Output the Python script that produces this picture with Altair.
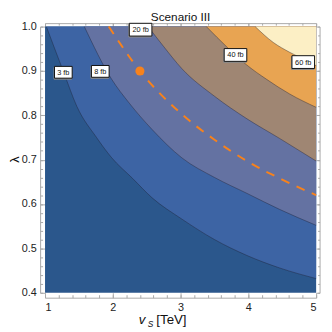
import altair as alt
import pandas as pd

# ---- contour boundaries (vS [TeV], lambda) ----
b3_vs = [1.02, 1.28, 1.47, 1.76, 1.98, 2.29, 2.58, 3.02, 3.50, 3.98, 4.46, 5.0]
b3_lam = [1.0, 0.895, 0.82, 0.75, 0.705, 0.658, 0.614, 0.566, 0.52, 0.484, 0.456, 0.432]
b8_vs = [1.58, 1.98, 2.24, 2.58, 3.02, 3.50, 3.98, 4.46, 5.0]
b8_lam = [1.0, 0.882, 0.828, 0.768, 0.704, 0.66, 0.624, 0.588, 0.552]
b20_vs = [2.52, 2.75, 3.02, 3.50, 3.98, 4.46, 5.0]
b20_lam = [1.0, 0.955, 0.905, 0.843, 0.792, 0.748, 0.697]
b40_vs = [3.38, 3.69, 3.98, 4.27, 4.61, 5.0]
b40_lam = [1.0, 0.953, 0.913, 0.881, 0.848, 0.818]
b60_vs = [4.10, 4.37, 4.61, 4.94, 5.0]
b60_lam = [1.0, 0.964, 0.942, 0.917, 0.912]

# dashed benchmark curve and point
dash_vs = [1.94, 2.4, 3.0, 3.5, 4.0, 4.5, 5.0]
dash_lam = [1.0, 0.9, 0.805, 0.745, 0.695, 0.655, 0.62]
pt_vs = [2.4]
pt_lam = [0.9]

# contour labels
labels = ["3 fb", "8 fb", "20 fb", "40 fb", "60 fb"]
label_vs = [1.27, 1.815, 2.41, 3.81, 4.81]
label_lam = [0.897, 0.899, 0.993, 0.936, 0.92]

# ticks
x_major = [1, 2, 3, 4, 5]
y_major = [0.4, 0.5, 0.6, 0.7, 0.8, 0.9, 1.0]
x_minor = [round(1 + 0.2 * i, 2) for i in range(21)]
y_minor = [round(0.4 + 0.02 * i, 2) for i in range(31)]

FONT = "Liberation Sans"
W, H = 276, 271
colors = ["#2b578c", "#3d64a4", "#6472a2", "#9f8673", "#e8a452", "#fcefc5"]
orange = "#f7821c"

xs = alt.Scale(domain=[1, 5], nice=False, zero=False)
ys = alt.Scale(domain=[0.4, 1.0], nice=False, zero=False)

def X(f):
    return alt.X(f, type="quantitative", scale=xs, axis=None)

def Y(f):
    return alt.Y(f, type="quantitative", scale=ys, axis=None)

bounds = [(b3_vs, b3_lam), (b8_vs, b8_lam), (b20_vs, b20_lam),
          (b40_vs, b40_lam), (b60_vs, b60_lam)]

base = alt.Chart(pd.DataFrame({"a": [0]})).mark_rect(color=colors[0]).encode(
    x=alt.XDatum(1.0, type="quantitative", scale=xs, axis=None),
    x2=alt.X2Datum(5.0),
    y=alt.YDatum(0.4, type="quantitative", scale=ys, axis=None),
    y2=alt.Y2Datum(1.0),
)

layers = [base]
for i, (bv, bl) in enumerate(bounds):
    df = pd.DataFrame({"vs": bv, "lam": bl})
    layers.append(
        alt.Chart(df).mark_area(color=colors[i + 1], interpolate="monotone").encode(
            x=X("vs"), y=Y("lam"), y2=alt.Y2Datum(1.0)
        )
    )
for bv, bl in bounds:
    df = pd.DataFrame({"vs": bv, "lam": bl})
    layers.append(
        alt.Chart(df).mark_line(color="#1a1a2a", strokeWidth=0.7, opacity=0.55,
                                interpolate="monotone").encode(x=X("vs"), y=Y("lam"))
    )

ddf = pd.DataFrame({"vs": dash_vs, "lam": dash_lam})
layers.append(
    alt.Chart(ddf).mark_line(color=orange, strokeWidth=2, strokeDash=[9, 8],
                             interpolate="monotone").encode(x=X("vs"), y=Y("lam"))
)
pdf = pd.DataFrame({"vs": pt_vs, "lam": pt_lam})
layers.append(
    alt.Chart(pdf).mark_circle(color=orange, size=85, opacity=1).encode(x=X("vs"), y=Y("lam"))
)

ldf = pd.DataFrame({"label": labels, "vs": label_vs, "lam": label_lam})
short_shape = "M-1,-0.667L1,-0.667L1,0.667L-1,0.667Z"
long_shape = "M-1,-0.565L1,-0.565L1,0.565L-1,0.565Z"
ldf_s = ldf[ldf["label"].str.len() <= 4]
ldf_l = ldf[ldf["label"].str.len() > 4]
for sub, shp, sz in [(ldf_s, short_shape, 324), (ldf_l, long_shape, 529)]:
    layers.append(
        alt.Chart(sub).mark_point(shape=shp, size=sz, filled=True, fill="#8a8a8a",
                                  stroke="#8a8a8a", strokeWidth=1, opacity=1,
                                  xOffset=-0.5, yOffset=1).encode(x=X("vs"), y=Y("lam"))
    )
    layers.append(
        alt.Chart(sub).mark_point(shape=shp, size=sz, filled=True, fill="white",
                                  stroke="#111111", strokeWidth=1, opacity=1).encode(
            x=X("vs"), y=Y("lam"))
    )
layers.append(
    alt.Chart(ldf).mark_text(font=FONT, fontSize=7.5, color="#111111",
                             align="center", baseline="middle", dy=0.5).encode(
        x=X("vs"), y=Y("lam"), text="label:N")
)

# title and axis titles as text
tdf = pd.DataFrame({"a": [0]})
layers.append(alt.Chart(tdf).mark_text(text="Scenario III", font=FONT, fontSize=12,
                                       align="center", baseline="alphabetic", color="#111").encode(
    x=alt.value(138), y=alt.value(-6)))
layers.append(alt.Chart(tdf).mark_text(text="v", font=FONT, fontStyle="italic", fontSize=13.5,
                                       align="center", baseline="alphabetic", color="#111").encode(
    x=alt.value(98.8), y=alt.value(303)))
layers.append(alt.Chart(tdf).mark_text(text="S", font=FONT, fontStyle="italic", fontSize=8.5,
                                       align="center", baseline="alphabetic", color="#111").encode(
    x=alt.value(107.3), y=alt.value(305.5)))
layers.append(alt.Chart(tdf).mark_text(text="[TeV]", font=FONT, fontSize=13.5,
                                       align="left", baseline="alphabetic", color="#111").encode(
    x=alt.value(113.3), y=alt.value(303)))
layers.append(alt.Chart(tdf).mark_text(text="λ", font=FONT, fontSize=13, angle=270,
                                       align="center", baseline="middle", color="#111").encode(
    x=alt.value(-30.5), y=alt.value(135.5)))

data_layer = alt.layer(*layers)

dummy = pd.DataFrame({"vs": [1.0], "lam": [0.4]})

def axis_layer(xaxis, yaxis):
    return alt.Chart(dummy).mark_point(opacity=0).encode(
        x=alt.X("vs:Q", scale=xs, axis=xaxis),
        y=alt.Y("lam:Q", scale=ys, axis=yaxis),
    )

common = dict(grid=False, title=None)
lab_x = alt.Axis(orient="bottom", offset=5, values=x_major, domain=True, domainColor="#a8a8a8",
                 domainWidth=1, ticks=False, tickSize=0, labels=True, labelPadding=4,
                 labelFont=FONT, labelFontSize=11, labelColor="#222", format="d", **common)
lab_y = alt.Axis(orient="left", offset=5, values=y_major, domain=True, domainColor="#a8a8a8",
                 domainWidth=1, ticks=False, tickSize=0, labels=True, labelPadding=4,
                 labelFont=FONT, labelFontSize=11, labelColor="#222", format=".1f", **common)

def tick_axis(orient, vals, off, size):
    return alt.Axis(orient=orient, offset=off, values=vals, domain=False, ticks=True,
                    tickSize=size, tickColor="#a8a8a8", tickWidth=1, labels=False, **common)

def frame_axis(orient, off):
    return alt.Axis(orient=orient, offset=off, domain=True, domainColor="#a8a8a8", domainWidth=1,
                    ticks=False, labels=False, **common)

ax_layers = [
    axis_layer(lab_x, lab_y),
    axis_layer(tick_axis("bottom", x_major, 0, 5), tick_axis("left", y_major, 0, 5)),
    axis_layer(tick_axis("bottom", x_minor, 2, 3), tick_axis("left", y_minor, 2.5, 2.5)),
    axis_layer(frame_axis("top", 3.5), frame_axis("right", 3.5)),
    axis_layer(tick_axis("top", x_major, 0, 3.5), tick_axis("right", y_major, 0, 3.5)),
    axis_layer(tick_axis("top", x_minor, 1.5, 2), tick_axis("right", y_minor, 1.5, 2)),
]

chart = alt.layer(data_layer, *ax_layers).resolve_scale(
    x="independent", y="independent"
).properties(
    width=W, height=H,
    autosize=alt.AutoSizeParams(type="none"),
    padding={"left": 37.7, "top": 16, "right": 8, "bottom": 36},
).configure_view(stroke=None)

chart.save("out.html", embed_options={"renderer": "svg", "actions": False})
